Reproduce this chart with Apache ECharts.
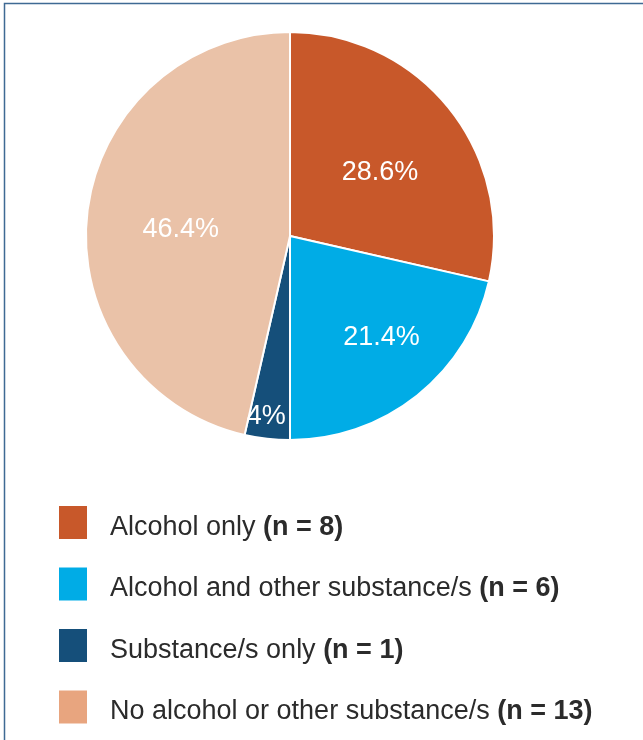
<!DOCTYPE html>
<html>
<head>
<meta charset="utf-8">
<script src="https://cdn.jsdelivr.net/npm/echarts@6/dist/echarts.min.js"></script>
<style>html,body{margin:0;padding:0;background:#fff;}#c{width:643px;height:740px;}</style>
</head>
<body>
<div id="c"></div>
<script>
const categories = ['Alcohol only', 'Alcohol and other substance/s', 'Substance/s only', 'No alcohol or other substance/s'];
const counts = [8, 6, 1, 13];
const sliceLabels = ['28.6%', '21.4%', '4%', '46.4%'];

const sliceColors = ['#C8582A', '#00ACE6', '#154F7A', '#EAC2A8'];
const legendColors = ['#C8582A', '#00ACE6', '#154F7A', '#E8A57F'];
const labelOffsets = [[8, 2], [26, 19], [-12, 76], [-5, 5]];
const FONT = 'Liberation Sans';

const chart = echarts.init(document.getElementById('c'), null, {renderer: 'canvas'});
const countOf = {};
categories.forEach((c, i) => countOf[c] = counts[i]);

chart.setOption({
  animation: false,
  backgroundColor: '#fff',
  graphic: [{
    type: 'rect',
    shape: {x: 4.5, y: 3.5, width: 700, height: 800},
    style: {fill: 'none', stroke: '#3F6A94', lineWidth: 1.5},
    silent: true
  }],
  legend: {
    orient: 'vertical',
    left: 54,
    top: 501,
    itemWidth: 28,
    itemHeight: 33,
    itemGap: 26.5,
    icon: 'rect',
    itemStyle: {borderWidth: 0},
    data: categories.map((c, i) => ({name: c, itemStyle: {color: legendColors[i], borderWidth: 0}})),
    formatter: name => `{a|${name} }{b|(n = ${countOf[name]})}`,
    textStyle: {
      padding: [10, 0, 0, 18],
      rich: {
        a: {fontFamily: FONT, fontSize: 27, color: '#2b2b2b'},
        b: {fontFamily: FONT, fontSize: 27, fontWeight: 'bold', color: '#2b2b2b'}
      }
    }
  },
  series: [{
    type: 'pie',
    center: [290, 236],
    radius: [0, 204],
    startAngle: 90,
    clockwise: true,
    avoidLabelOverlap: false,
    itemStyle: {borderColor: '#fff', borderWidth: 2},
    label: {
      show: true,
      position: 'inside',
      color: '#fff',
      fontSize: 27,
      fontFamily: FONT
    },
    labelLine: {show: false},
    emphasis: {disabled: true},
    data: categories.map((c, i) => ({
      name: c,
      value: counts[i],
      itemStyle: {color: sliceColors[i]},
      label: {formatter: sliceLabels[i], offset: labelOffsets[i]}
    }))
  }]
});
</script>
</body>
</html>
